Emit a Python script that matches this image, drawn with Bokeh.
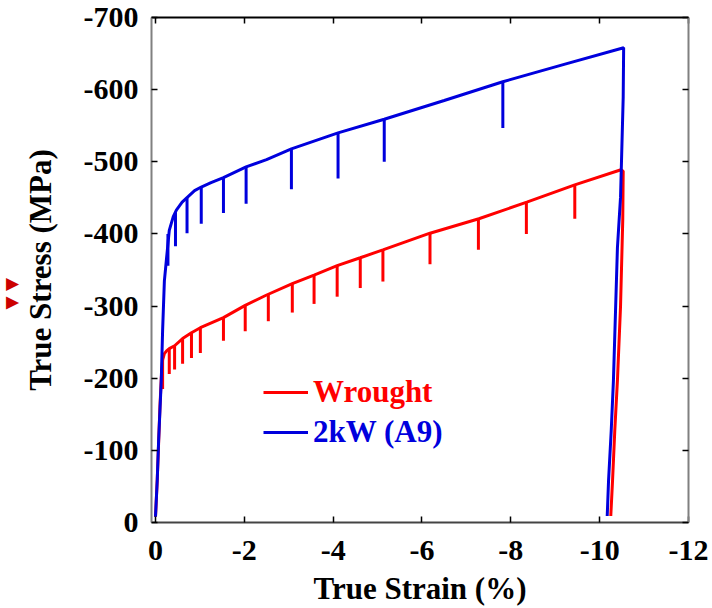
from bokeh.plotting import figure
from bokeh.models import Range1d, FixedTicker, LinearAxis, Legend, LegendItem, Title, CustomJSTickFormatter
from bokeh.embed import file_html
from bokeh.resources import INLINE

# ---- data ----
x_ticks = [0, -2, -4, -6, -8, -10, -12]
x_tick_labels = ["0", "-2", "-4", "-6", "-8", "-10", "-12"]
y_ticks = [0, -100, -200, -300, -400, -500, -600, -700]
y_tick_labels = ["0", "-100", "-200", "-300", "-400", "-500", "-600", "-700"]

# 2kW (A9) envelope + final unloading
a9_strain = [0, -0.04, -0.07, -0.10, -0.13, -0.16, -0.20, -0.25, -0.31, -0.40, -0.47,
             -0.60, -0.74, -0.88, -1.03, -1.25, -1.53, -2.04, -2.5, -3.06, -4.11,
             -5.15, -6.5, -7.82, -9.2, -10.54,
             -10.53, -10.47, -10.40, -10.31, -10.26, -10.20, -10.17]
a9_stress = [-8, -60, -113, -155, -197, -266, -335, -367, -405, -424, -433,
             -444, -452, -460, -465, -471, -478, -493, -503, -518, -540,
             -559, -585, -611, -635, -658,
             -590, -451, -381, -197, -127, -58, -9]
# 2kW (A9) partial unloadings: strain, top, bottom
a9_spk_x = [-0.28, -0.45, -0.71, -1.03, -1.53, -2.04, -3.06, -4.11, -5.15, -7.82]
a9_spk_top = [-400, -430, -450, -465, -478, -493, -518, -540, -559, -611]
a9_spk_bot = [-356, -383, -401, -414, -429, -442, -462, -477, -500, -547]

# Wrought envelope + final unloading
wr_strain = [0, -0.04, -0.07, -0.10, -0.13, -0.16, -0.20, -0.25, -0.31, -0.43, -0.61,
             -0.81, -1.01, -1.53, -2.02, -2.49, -3.08, -3.57, -4.09, -4.61, -5.12,
             -6.18, -7.28, -8.36, -9.44, -10.48,
             -10.53, -10.52, -10.47, -10.40, -10.34, -10.29, -10.25]
wr_stress = [-8, -60, -110, -160, -200, -225, -234, -238, -241, -245, -255,
             -263, -270, -284, -301, -315, -331, -343, -356, -367, -378,
             -401, -421, -444, -468, -489,
             -487, -420, -300, -197, -127, -58, -9]
wr_spk_x = [-0.16, -0.31, -0.43, -0.61, -0.81, -1.01, -1.53, -2.02, -2.54, -3.08,
            -3.57, -4.09, -4.61, -5.12, -6.18, -7.27, -8.35, -9.44]
wr_spk_top = [-225, -241, -245, -255, -263, -270, -284, -301, -316, -331,
              -343, -356, -367, -378, -401, -421, -444, -467]
wr_spk_bot = [-185, -206, -212, -220, -228, -235, -252, -265, -279, -291,
              -303, -313, -325, -334, -358, -378, -400, -421]

RED = "#ff0000"
BLUE = "#0000dd"
FONT = "Times New Roman"

p = figure(width=712, height=608, x_range=Range1d(0.09, -12), y_range=Range1d(0, -700),
           output_backend="svg", toolbar_location=None,
           min_border_left=150, min_border_right=24, min_border_top=17, min_border_bottom=86,
           x_axis_label="True Strain (%)", y_axis_label="True Stress (MPa)")
p.outline_line_color = None
p.xgrid.visible = False
p.ygrid.visible = False
p.background_fill_color = "white"
p.border_fill_color = "white"

red_line = p.line(wr_strain, wr_stress, line_color=RED, line_width=3)
p.segment(x0=wr_spk_x, y0=wr_spk_top, x1=wr_spk_x, y1=wr_spk_bot, line_color=RED, line_width=3)
blue_line = p.line(a9_strain, a9_stress, line_color=BLUE, line_width=3)
p.segment(x0=a9_spk_x, y0=a9_spk_top, x1=a9_spk_x, y1=a9_spk_bot, line_color=BLUE, line_width=3)

def style_axis(ax, ticks, labels, line_color, show_labels=True):
    ax.ticker = FixedTicker(ticks=ticks)
    ax.major_tick_in = 6
    ax.major_tick_out = 0
    ax.minor_tick_in = 0
    ax.minor_tick_out = 0
    ax.major_tick_line_color = "black"
    ax.major_tick_line_width = 1.5
    ax.axis_line_color = line_color
    ax.axis_line_width = 2
    if show_labels:
        ax.major_label_overrides = {t: l for t, l in zip(ticks, labels)}
        ax.major_label_text_font = FONT
        ax.major_label_text_font_style = "bold"
        ax.major_label_text_font_size = "30px"
        ax.major_label_text_color = "black"
        ax.axis_label_text_font = FONT
        ax.axis_label_text_font_style = "bold"
        ax.axis_label_text_font_size = "31px"
        ax.axis_label_text_color = "black"
    else:
        ax.formatter = CustomJSTickFormatter(code="return ''")
        ax.major_label_standoff = 0
        ax.axis_label = None

xb = p.xaxis[0]
style_axis(xb, x_ticks, x_tick_labels, "#444444")
xb.major_label_standoff = 18
xb.axis_label_standoff = 8
yl = p.yaxis[0]
style_axis(yl, y_ticks, y_tick_labels, "#808080")
yl.major_label_standoff = 13
yl.axis_label_standoff = 23

xt = LinearAxis()
style_axis(xt, x_ticks, x_tick_labels, "black", show_labels=False)
p.add_layout(xt, "above")
yr = LinearAxis()
style_axis(yr, y_ticks, y_tick_labels, "#808080", show_labels=False)
p.add_layout(yr, "right")

def make_legend(label, rend, color, loc):
    lg = Legend(items=[LegendItem(label=label, renderers=[rend])], location=loc,
                label_text_color=color, label_text_font=FONT, label_text_font_style="bold",
                label_text_font_size="31px", glyph_width=45, glyph_height=30,
                label_height=30, label_standoff=5, padding=0, margin=0, spacing=0,
                border_line_color=None, background_fill_alpha=0)
    p.add_layout(lg)

make_legend("Wrought", red_line, RED, (112, 112))
make_legend("2kW (A9)", blue_line, BLUE, (112, 72))

marks = Title(text="\u25bc \u25bc", align="left", offset=213, text_color="#cc0000",
              text_font="DejaVu Sans", text_font_size="17px", text_font_style="normal",
              standoff=-3, vertical_align="bottom")
p.add_layout(marks, "left")

open("out.html", "w").write(file_html(p, INLINE))
